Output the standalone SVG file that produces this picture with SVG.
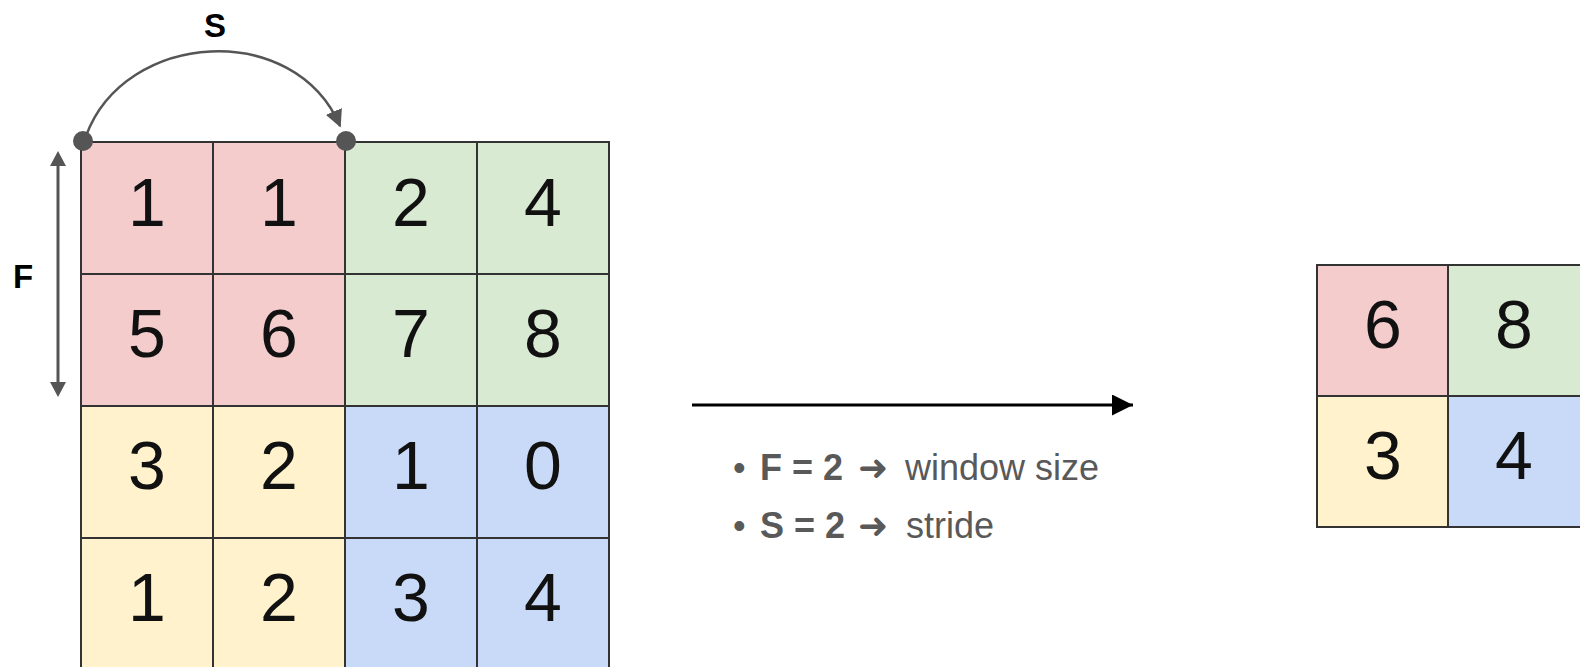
<svg xmlns="http://www.w3.org/2000/svg" width="1580" height="667" viewBox="0 0 1580 667">
<style>
.pink{fill:#f4cccc}.green{fill:#d9ead3}.yellow{fill:#fff2cc}.blue{fill:#c9daf8}
.grid{stroke:#333;stroke-width:2;fill:none}
.num{font-family:"Liberation Sans",Arial,sans-serif;font-size:68px;fill:#111;text-anchor:middle}
.lbl{font-family:"Liberation Sans",Arial,sans-serif;font-size:33px;font-weight:bold;fill:#000;text-anchor:middle}
.txt{font-family:"Liberation Sans",Arial,sans-serif;font-size:36px;fill:#595959}
.b{font-weight:bold}
.arr{font-family:"DejaVu Sans",sans-serif;font-size:36px;font-weight:bold}
</style>
<defs>
<marker id="gray" viewBox="0 0 10 10" refX="9" refY="5" markerWidth="7" markerHeight="7" orient="auto" markerUnits="strokeWidth">
<path d="M0,0 L10,5 L0,10 z" fill="#555"/>
</marker>
<marker id="blk" viewBox="0 0 10 10" refX="10" refY="5" markerWidth="8.5" markerHeight="7" orient="auto" markerUnits="strokeWidth">
<path d="M0,0 L10,5 L0,10 z" fill="#000"/>
</marker>
</defs>
<rect width="1580" height="667" fill="#fff"/>
<g id="input-grid">
<rect class="pink" x="81" y="142" width="264" height="264"/>
<rect class="green" x="345" y="142" width="264" height="264"/>
<rect class="yellow" x="81" y="406" width="264" height="264"/>
<rect class="blue" x="345" y="406" width="264" height="264"/>
<path class="grid" d="M81,142 H609 V670 M81,142 V670 M213,142 V670 M345,142 V670 M477,142 V670 M81,274 H609 M81,406 H609 M81,538 H609"/>
<text class="num" x="147" y="226">1</text><text class="num" x="279" y="226">1</text><text class="num" x="411" y="226">2</text><text class="num" x="543" y="226">4</text>
<text class="num" x="147" y="357">5</text><text class="num" x="279" y="357">6</text><text class="num" x="411" y="357">7</text><text class="num" x="543" y="357">8</text>
<text class="num" x="147" y="489">3</text><text class="num" x="279" y="489">2</text><text class="num" x="411" y="489">1</text><text class="num" x="543" y="489">0</text>
<text class="num" x="147" y="621">1</text><text class="num" x="279" y="621">2</text><text class="num" x="411" y="621">3</text><text class="num" x="543" y="621">4</text>
</g>
<g id="output-grid">
<rect class="pink" x="1317" y="265" width="131" height="131"/>
<rect class="green" x="1448" y="265" width="134" height="131"/>
<rect class="yellow" x="1317" y="396" width="131" height="131"/>
<rect class="blue" x="1448" y="396" width="134" height="131"/>
<path class="grid" d="M1582,265 H1317 V527 H1582 M1448,265 V527 M1317,396 H1582"/>
<text class="num" x="1383" y="348">6</text><text class="num" x="1514" y="348">8</text>
<text class="num" x="1383" y="479">3</text><text class="num" x="1514" y="479">4</text>
</g>
<g id="labels">
<text class="lbl" x="215" y="37">S</text>
<text class="lbl" x="23" y="288">F</text>
</g>
<g id="connectors">
<path d="M86,136 C125,30 295,20 340,126" fill="none" stroke="#555" stroke-width="2.5" marker-end="url(#gray)"/>
<circle cx="83" cy="141" r="10" fill="#555"/>
<circle cx="346" cy="141" r="10" fill="#555"/>
<line x1="58" y1="160" x2="58" y2="388" stroke="#555" stroke-width="3"/>
<path d="M58,151 L66,166 L50,166 z" fill="#555"/>
<path d="M58,397 L66,382 L50,382 z" fill="#555"/>
<line x1="692" y1="405" x2="1133" y2="405" stroke="#000" stroke-width="3" marker-end="url(#blk)"/>
</g>
<g id="legend">
<text class="txt" y="480"><tspan x="733">•</tspan><tspan x="760" class="b">F = 2</tspan><tspan x="858" class="arr">➜</tspan><tspan x="905">window size</tspan></text>
<text class="txt" y="538"><tspan x="733">•</tspan><tspan x="760" class="b">S = 2</tspan><tspan x="858" class="arr">➜</tspan><tspan x="906">stride</tspan></text>
</g>
</svg>
